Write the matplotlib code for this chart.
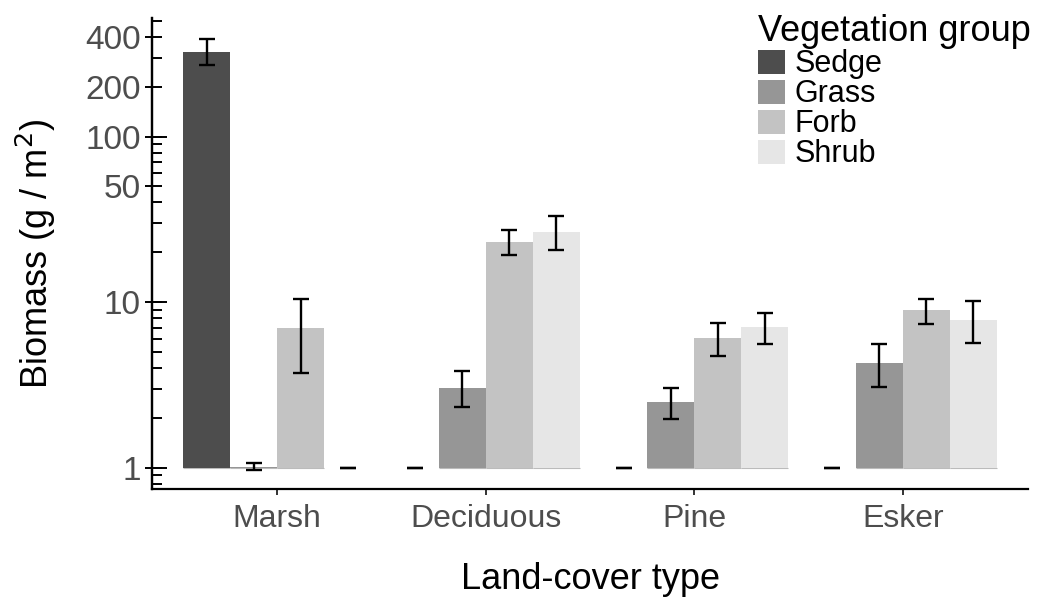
import numpy as np
import matplotlib
matplotlib.use("Agg")
import matplotlib.pyplot as plt
from matplotlib.ticker import FixedLocator, NullFormatter

plt.rcParams['font.family'] = ['Liberation Sans', 'DejaVu Sans']

# data (g/m2, bars start at 1 on the log axis)
land_cover = ['Marsh', 'Deciduous', 'Pine', 'Esker']
groups = ['Sedge', 'Grass', 'Forb', 'Shrub']
colors = ['#4D4D4D', '#969696', '#C3C3C3', '#E6E6E6']

sedge = [323, 1, 1, 1]
sedge_lo = [269, 1, 1, 1]
sedge_hi = [387, 1, 1, 1]

grass = [1.01, 3.05, 2.49, 4.31]
grass_lo = [0.97, 2.31, 1.97, 3.07]
grass_hi = [1.06, 3.82, 3.05, 5.59]

forb = [6.96, 23.1, 6.08, 8.91]
forb_lo = [3.71, 19.3, 4.71, 7.36]
forb_hi = [10.4, 27.3, 7.49, 10.47]

shrub = [1, 26.6, 7.12, 7.85]
shrub_lo = [1, 20.6, 5.62, 5.67]
shrub_hi = [1, 33.2, 8.58, 10.18]

means = [sedge, grass, forb, shrub]
lows = [sedge_lo, grass_lo, forb_lo, shrub_lo]
highs = [sedge_hi, grass_hi, forb_hi, shrub_hi]

fig = plt.figure(figsize=(10.42, 5.99), dpi=100)
ax = fig.add_axes([0.1459, 0.1836, 0.8407, 0.7864])

x = np.arange(1, len(land_cover) + 1)
w = 0.225
for i, g in enumerate(groups):
    xs = x + (i - 1.5) * w
    m = np.array(means[i])
    lo = np.array(lows[i])
    hi = np.array(highs[i])
    ax.bar(xs, m - 1, bottom=1, width=w, color=colors[i], label=g,
           edgecolor='none', zorder=2)
    # tiny bars (value ~1) show as a thin line
    ax.hlines(np.where(m > 1, 1, np.nan), xs - w / 2, xs + w / 2,
              color='#BBBBBB', lw=0.8, zorder=1)
    ax.errorbar(xs, m, yerr=[m - lo, hi - m], fmt='none', ecolor='black',
                elinewidth=1.7, capsize=6, capthick=1.7, zorder=3)

ax.set_yscale('log')
ax.set_ylim(0.743, 521)
ax.set_xlim(0.4, 4.6)

ax.set_xticks(x)
ax.set_xticklabels(land_cover)
ax.set_yticks([1, 10, 50, 100, 200, 400])
ax.set_yticklabels(['1', '10', '50', '100', '200', '400'])

minor = [v * d for d in (0.1, 1, 10, 100) for v in range(1, 10)]
minor = [v for v in minor if 0.743 <= v <= 521]
ax.yaxis.set_minor_locator(FixedLocator(minor))
ax.yaxis.set_minor_formatter(NullFormatter())
ax.yaxis.remove_overlapping_locs = False
ax.tick_params(axis='y', which='minor', direction='in', length=7.5,
               width=1.4, color='black')
ax.tick_params(axis='y', which='major', direction='out', length=5,
               width=1.4, color='black', labelsize=24, labelcolor='#4D4D4D',
               pad=3)
ax.tick_params(axis='x', which='major', direction='out', length=4,
               width=1.4, color='#333333', labelsize=23, labelcolor='#4D4D4D',
               pad=7)

# longer inside ticks at the decades
sec = ax.secondary_yaxis('left')
sec.set_yticks([1, 10, 100])
sec.tick_params(direction='in', length=11, width=1.4, labelleft=False)
sec.yaxis.set_minor_locator(FixedLocator([]))
sec.spines['left'].set_linewidth(1.6)

for s in ['top', 'right']:
    ax.spines[s].set_visible(False)
for s in ['left', 'bottom']:
    ax.spines[s].set_linewidth(1.6)
    ax.spines[s].set_color('black')

ax.set_xlabel('Land-cover type', fontsize=26, labelpad=20)
ax.set_ylabel('Biomass (g / m$^2$)', fontsize=26, labelpad=20)

leg = fig.legend(loc='upper left', bbox_to_anchor=(0.727, 0.976),
                 title='Vegetation group', fontsize=22, title_fontsize=26,
                 frameon=False, handlelength=0.9, handleheight=0.85,
                 handletextpad=0.3, labelspacing=0.0, borderpad=0.0,
                 borderaxespad=0.0, alignment='left')

fig.savefig('out.png', dpi=100)
